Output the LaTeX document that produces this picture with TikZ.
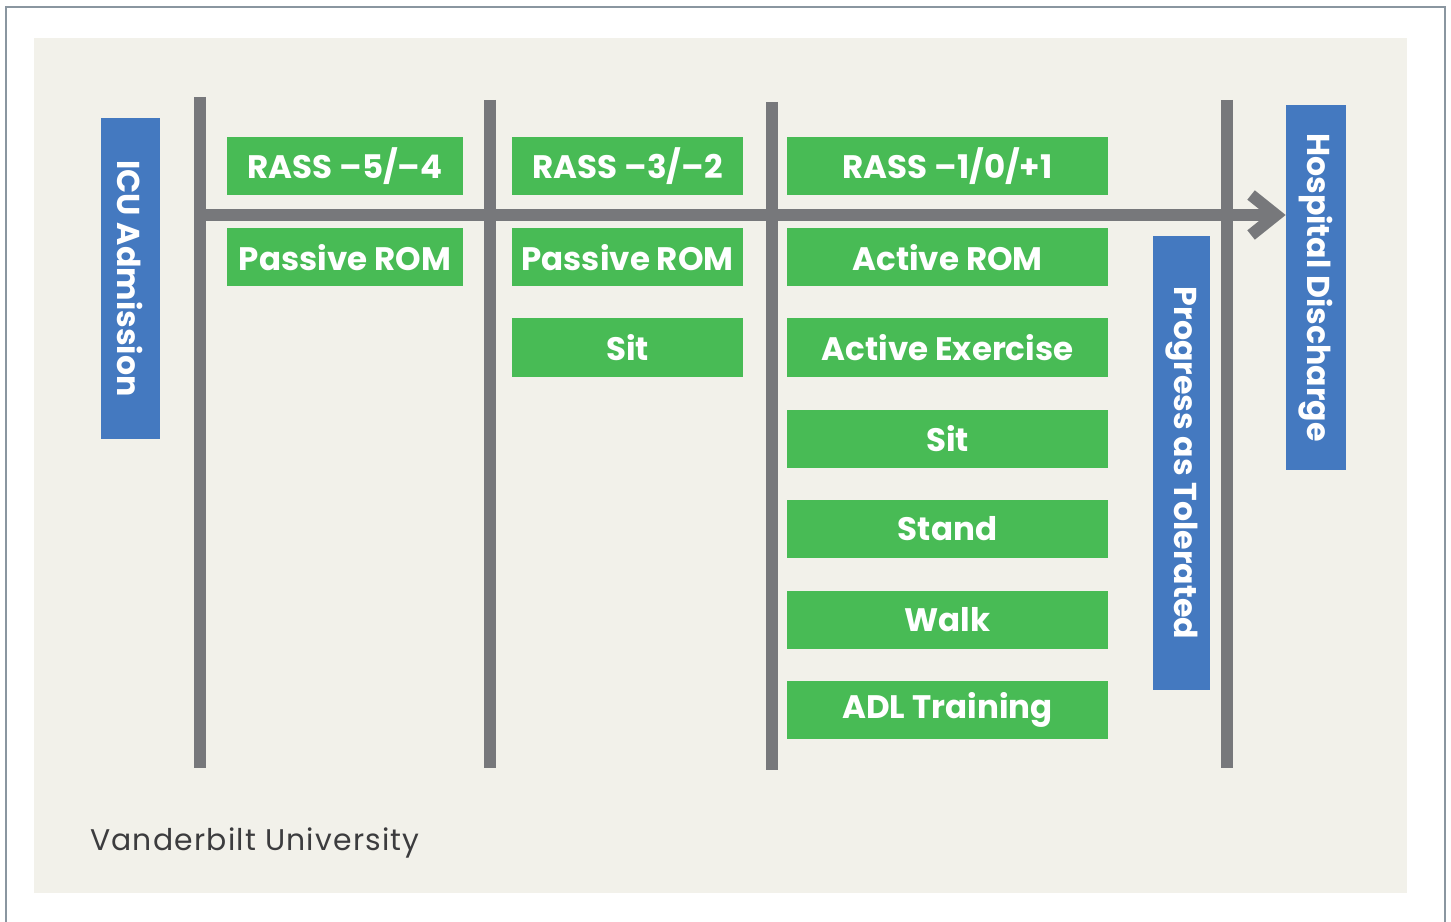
\documentclass[tikz,border=0pt]{standalone}
\usepackage{fontspec}
\setmainfont{Poppins}
\usepackage{tikz}
\usetikzlibrary{arrows.meta,positioning}
\definecolor{railgray}{HTML}{77787B}
\definecolor{stepgreen}{HTML}{48BB55}
\definecolor{mileblue}{HTML}{4479C0}
\definecolor{panelbg}{HTML}{F2F1EA}
\definecolor{framegray}{HTML}{8A96A0}
\definecolor{creditgray}{HTML}{3C3C3E}
\newcommand{\pxu}{0.02cm}

\begin{document}
\begin{tikzpicture}
[x=\pxu,y=-\pxu,
rail/.style={draw=railgray,line width=12*\pxu},
act/.style={shape=rectangle,fill=stepgreen,text=white,inner sep=0pt,
  minimum height=58*\pxu,font=\bfseries\fontsize{18.5}{22}\selectfont},
col1/.style={act,minimum width=236*\pxu},
col2/.style={act,minimum width=231*\pxu},
col3/.style={act,minimum width=321*\pxu},
mile/.style={shape=rectangle,fill=mileblue,text=white,inner sep=0pt,
  rotate=-90,font=\bfseries\fontsize{18}{22}\selectfont}]
\useasboundingbox (0,0) rectangle (1451,922);
\draw [framegray,line width=1.5*\pxu] (6,922) -- (6,7) -- (1445,7) -- (1445,922);
\fill [panelbg] (34,38) rectangle (1407,893);

% milestones
\node (icu) [mile,minimum width=321*\pxu,minimum height=59*\pxu]
    at (130.5,278.5) {ICU Admission};
\node (disch) [mile,minimum width=365*\pxu,minimum height=60*\pxu]
    at (1316,287.5) {Hospital Discharge};
\node (prog) [mile,minimum width=454*\pxu,minimum height=57*\pxu]
    at (1181.5,463) {Progress as Tolerated};

% rails
\coordinate (t1) at (200,97);  \coordinate (b1) at (200,768);
\coordinate (t2) at (490,100); \coordinate (b2) at (490,768);
\coordinate (t3) at (772,102); \coordinate (b3) at (772,770);
\coordinate (t4) at (1227,100); \coordinate (b4) at (1227,768);
\draw [rail] (t1) -- (b1);
\draw [rail] (t2) -- (b2);
\draw [rail] (t3) -- (b3);
\draw [rail] (t4) -- (b4);
\coordinate (start) at (194,215);
\draw [rail,-{Straight Barb[length=0.5cm,width=0.8cm]}] (start) -- (start -| disch.south);

% RASS -5/-4
\node (r1) [col1] at (345,166.5) {RASS --5/--4};
\node (r1a) [col1] at (345,257.5) {Passive ROM};

% RASS -3/-2
\node (r2) [col2] at (627.5,166.5) {RASS --3/--2};
\node (r2a) [col2] at (627.5,257.5) {Passive ROM};
\node (r2b) [col2] at (627.5,347.5) {Sit};

% RASS -1/0/+1
\node (r3) [col3] at (947.5,166.5) {RASS --1/0/+1};
\node (r3a) [col3] at (947.5,257.5) {Active ROM};
\node (r3b) [col3] at (947.5,347.5) {Active Exercise};
\node (r3c) [col3] at (947.5,438.5) {Sit};
\node (r3d) [col3] at (947.5,529) {Stand};
\node (r3e) [col3] at (947.5,620) {Walk};
\node (r3f) [col3] at (947.5,710) {ADL Training};

\node (credit) [anchor=base west,text=creditgray,
    font=\fontsize{17}{20}\selectfont\addfontfeatures{LetterSpace=4}]
    at (84,850) {Vanderbilt University};
\end{tikzpicture}
\end{document}
